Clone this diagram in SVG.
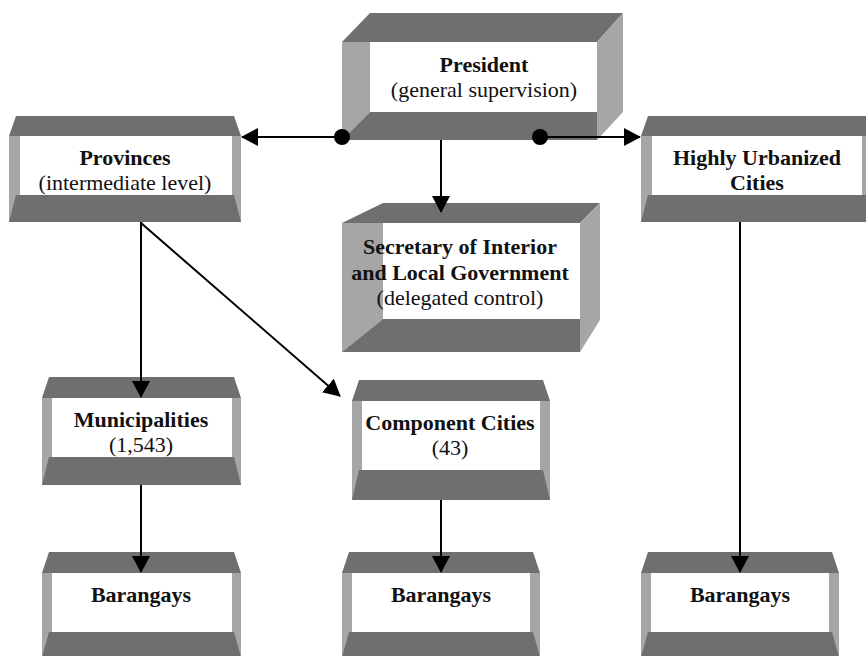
<svg xmlns="http://www.w3.org/2000/svg" width="866" height="656" viewBox="0 0 866 656">
<style>
.dk{fill:#6f6f6f}
.lt{fill:#a6a6a6}
.wh{fill:#ffffff}
text{font-family:"Liberation Serif","Times New Roman",serif;font-size:22px;fill:#111;text-anchor:middle}
.b{font-weight:bold}
.c{stroke:#000;stroke-width:2;fill:none}
</style>
<defs>
<marker id="ah" markerUnits="userSpaceOnUse" markerWidth="17" markerHeight="18" viewBox="0 0 17 18" refX="16" refY="9" orient="auto">
<path d="M0,0 L17,9 L0,18 z" fill="#000"/>
</marker>
</defs>
<rect width="866" height="656" fill="#fff"/>

<g id="president">
<polygon class="dk" points="342,42 370,13 623,13 597,42"/>
<polygon class="lt" points="597,42 623,13 623,112 597,140"/>
<polygon class="lt" points="342,42 370,42 370,112 342,140"/>
<rect class="wh" x="370" y="42" width="227" height="70"/>
<polygon class="dk" points="370,112 597,112 597,140 342,140"/>
<text class="b" x="484" y="72">President</text>
<text x="484" y="97">(general supervision)</text>
</g>

<g id="secretary">
<polygon class="dk" points="342,223 383,203 600,203 580,223"/>
<polygon class="lt" points="580,223 600,203 600,320 580,352"/>
<polygon class="lt" points="342,223 383,223 383,319 342,352"/>
<rect class="wh" x="383" y="223" width="197" height="96"/>
<polygon class="dk" points="383,319 580,319 580,352 342,352"/>
<text class="b" x="460" y="254">Secretary of Interior</text>
<text class="b" x="460" y="280">and Local Government</text>
<text x="460" y="305">(delegated control)</text>
</g>

<g id="provinces">
<rect class="lt" x="9" y="136" width="232" height="86"/>
<rect class="wh" x="20" y="136" width="212" height="59"/>
<polygon class="dk" points="16,116 234,116 241,136 9,136"/>
<polygon class="dk" points="16,195 234,195 241,222 9,222"/>
<text class="b" x="125" y="165">Provinces</text>
<text x="125" y="190">(intermediate level)</text>
</g>

<g id="huc">
<rect class="lt" x="641" y="136" width="232" height="86"/>
<rect class="wh" x="652" y="136" width="210" height="59"/>
<polygon class="dk" points="648,116 866,116 873,136 641,136"/>
<polygon class="dk" points="648,195 866,195 873,222 641,222"/>
<text class="b" x="757" y="165">Highly Urbanized</text>
<text class="b" x="757" y="190">Cities</text>
</g>

<g id="municipalities">
<rect class="lt" x="42" y="398" width="199" height="87"/>
<rect class="wh" x="52" y="398" width="180" height="59"/>
<polygon class="dk" points="49,377 234,377 241,398 42,398"/>
<polygon class="dk" points="49,457 234,457 241,485 42,485"/>
<text class="b" x="141" y="427">Municipalities</text>
<text x="141" y="452">(1,543)</text>
</g>

<g id="component">
<rect class="lt" x="352" y="401" width="198" height="99"/>
<rect class="wh" x="362" y="401" width="178" height="69"/>
<polygon class="dk" points="359,380 543,380 550,401 352,401"/>
<polygon class="dk" points="359,470 543,470 550,500 352,500"/>
<text class="b" x="450" y="430">Component Cities</text>
<text x="450" y="455">(43)</text>
</g>

<g id="barangays1">
<rect class="lt" x="42" y="573" width="199" height="84"/>
<rect class="wh" x="52" y="573" width="180" height="59"/>
<polygon class="dk" points="49,552 234,552 241,573 42,573"/>
<polygon class="dk" points="49,632 234,632 241,657 42,657"/>
<text class="b" x="141" y="602">Barangays</text>
</g>

<g id="barangays2">
<rect class="lt" x="342" y="573" width="198" height="84"/>
<rect class="wh" x="352" y="573" width="178" height="59"/>
<polygon class="dk" points="349,552 533,552 540,573 342,573"/>
<polygon class="dk" points="349,632 533,632 540,657 342,657"/>
<text class="b" x="441" y="602">Barangays</text>
</g>

<g id="barangays3">
<rect class="lt" x="641" y="573" width="198" height="84"/>
<rect class="wh" x="651" y="573" width="178" height="59"/>
<polygon class="dk" points="648,552 832,552 839,573 641,573"/>
<polygon class="dk" points="648,632 832,632 839,657 641,657"/>
<text class="b" x="740" y="602">Barangays</text>
</g>

<g id="connectors">
<path class="c" d="M342,137 H242" marker-end="url(#ah)"/>
<path class="c" d="M540,137 H640" marker-end="url(#ah)"/>
<path class="c" d="M441,140 V212" marker-end="url(#ah)"/>
<path class="c" d="M141,222 V397" marker-end="url(#ah)"/>
<path class="c" d="M141,223 L340,396" marker-end="url(#ah)"/>
<path class="c" d="M141,485 V572" marker-end="url(#ah)"/>
<path class="c" d="M441,500 V572" marker-end="url(#ah)"/>
<path class="c" d="M740,222 V572" marker-end="url(#ah)"/>
<circle cx="342" cy="137" r="8" fill="#000"/>
<circle cx="540" cy="137" r="8" fill="#000"/>
</g>
</svg>
